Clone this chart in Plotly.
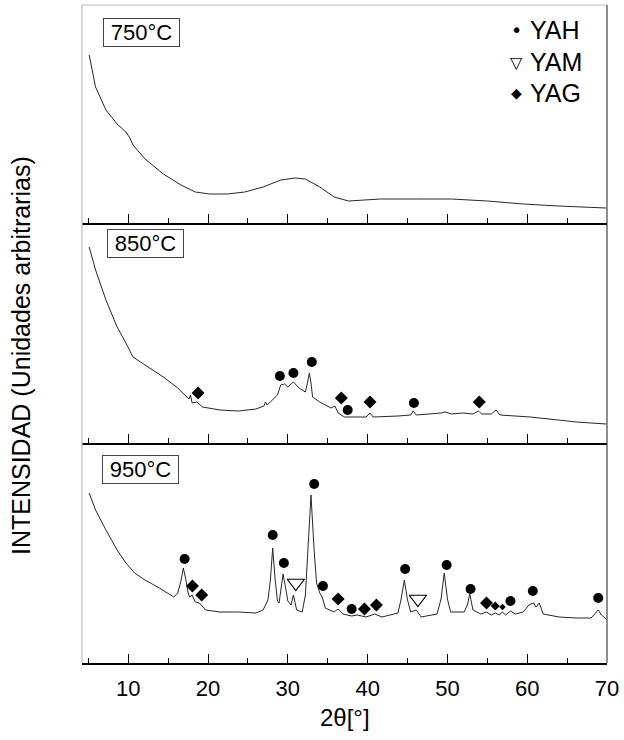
import plotly.graph_objects as go

# ---------------- data (arbitrary intensity units) ----------------
two_theta_750 = [5.1, 5.9, 7.2, 8.6, 9.7, 10.2, 10.6, 12.1, 14.4, 16.6, 18.4, 20.2, 22.4, 24.6,
                 26.9, 29.1, 30.9, 32.2, 34.0, 35.8, 37.6, 39.8, 41.6, 46.1, 50.5, 55.0,
                 59.5, 63.9, 69.9]
int_750 = [168, 136, 113, 99, 91, 85, 78, 64, 49, 38, 31, 29, 29, 31,
           36, 43, 45, 44, 36, 26, 22, 23, 24, 24, 24, 22,
           19, 17, 15]

two_theta_850 = [5.1, 5.9, 7.2, 8.6, 9.7, 10.6, 12.1, 14.4, 16.2, 17.6, 17.8, 18.0, 18.6, 19.3,
                 21.5, 23.8, 26.0, 27.0, 27.2, 27.4, 27.8, 28.7, 29.1, 29.6, 30.0, 30.7,
                 31.4, 32.2, 32.5, 32.7, 32.9, 33.1, 34.0, 35.4, 35.9, 36.3, 37.1, 38.5,
                 39.8, 40.3, 40.7, 43.8, 45.4, 45.7, 46.1, 49.2, 49.7, 50.5, 51.9, 53.2,
                 53.9, 54.3, 55.5, 56.1, 56.6, 60.4, 64.0, 66.2, 69.9]
int_850 = [196, 173, 143, 116, 100, 86, 78, 66, 55, 44, 48, 40, 41, 36,
           33, 32, 34, 37, 41, 38, 41, 48, 58, 59, 56, 61,
           55, 51, 62, 70, 60, 46, 41, 35, 37, 30, 26, 26,
           26, 30, 26, 27, 28, 32, 28, 30, 31, 29, 30, 29,
           32, 29, 29, 33, 28, 26, 23, 21, 19]

two_theta_950 = [5.1, 5.9, 7.2, 8.6, 9.7, 10.8, 12.1, 13.9, 15.7, 16.2, 16.6, 16.9, 17.2, 17.5,
                 17.7, 18.0, 18.4, 18.9, 19.7, 21.5, 23.8, 26.0, 26.9, 27.5, 27.8, 28.1,
                 28.4, 28.7, 28.9, 29.2, 29.4, 29.7, 30.0, 30.4, 30.7, 31.1, 31.8, 32.2,
                 32.5, 32.9, 33.3, 33.6, 34.0, 34.3, 34.7, 35.8, 36.3, 36.9, 38.0, 38.7,
                 39.8, 40.9, 41.8, 43.8, 44.2, 44.6, 45.0, 45.4, 46.1, 46.7, 48.7, 49.2,
                 49.6, 50.0, 50.4, 52.1, 52.5, 52.8, 53.2, 54.2, 54.9, 55.5, 56.0, 56.5,
                 56.9, 57.3, 57.9, 58.5, 59.5, 60.2, 60.8, 61.1, 61.5, 62.0, 64.0, 66.2,
                 68.0, 68.6, 68.9, 69.3, 69.9]
int_950 = [170, 153, 133, 113, 100, 90, 83, 75, 66, 70, 82, 95, 84, 70,
           66, 68, 61, 60, 53, 51, 51, 50, 53, 63, 82, 115, 84, 62,
           60, 78, 89, 76, 62, 58, 68, 53, 51, 68,
           112, 168, 112, 80, 70, 66, 55, 51, 54, 49, 47, 48,
           46, 49, 46, 50, 64, 83, 63, 51, 53, 46, 49, 64,
           90, 64, 51, 51, 58, 69, 53, 49, 51, 48, 50, 48,
           51, 48, 52, 49, 51, 58, 60, 56, 60, 49, 46, 45,
           45, 50, 53, 48, 44]

# phase markers (position, marker height)
yah_850_x = [29.0, 30.7, 33.0, 37.5, 45.8]
yah_850_y = [67, 70, 81, 33, 40]
yag_850_x = [18.75, 36.7, 40.3, 54.0]
yag_850_y = [50, 45, 41, 41]

yah_950_x = [17.06, 28.1, 29.5, 33.3, 34.4, 38.0, 44.7, 49.9, 52.9, 57.9, 60.7, 68.9]
yah_950_y = [104, 128, 100, 179, 77, 54, 94, 98, 74, 62, 72, 65]
yam_950_x = [31.0, 46.3]
yam_950_y = [80, 64]
yag_950_x = [18.04, 19.2, 36.3, 39.6, 41.1, 54.9, 56.0, 56.9]
yag_950_y = [77, 68, 64, 54, 58, 60, 57, 56]

temperatures = ["750°C", "850°C", "950°C"]
phases = ["YAH", "YAM", "YAG"]
x_ticks = [10, 20, 30, 40, 50, 60, 70]

# ---------------- figure ----------------
FONT = "Liberation Sans, Arial, sans-serif"
LINE = "#262626"
W, H = 624, 740
ML, MR, MT, MB = 82, 17, 5, 77
plot_h = H - MT - MB

fig = go.Figure()

def curve(x, y, xa, ya):
    fig.add_trace(go.Scatter(x=x, y=y, mode="lines", xaxis=xa, yaxis=ya,
                             line=dict(color=LINE, width=1), showlegend=False,
                             hoverinfo="skip"))

def marks(x, y, xa, ya, symbol, size, lw=0):
    fig.add_trace(go.Scatter(x=x, y=y, mode="markers", xaxis=xa, yaxis=ya,
                             marker=dict(symbol=symbol, size=size, color="black",
                                         opacity=1,
                                         line=dict(color="black", width=lw)),
                             showlegend=False, hoverinfo="skip"))

# panel 1 (top) -> x3/y3, panel 2 -> x2/y2, panel 3 (bottom) -> x/y
curve(two_theta_750, int_750, "x3", "y3")
curve(two_theta_850, int_850, "x2", "y2")
curve(two_theta_950, int_950, "x", "y")

marks(yah_850_x, yah_850_y, "x2", "y2", "circle", 10)
marks(yag_850_x, yag_850_y, "x2", "y2", "diamond", 10)
marks(yah_950_x, yah_950_y, "x", "y", "circle", 10)
marks(yam_950_x, yam_950_y, "x", "y", "triangle-down-open", 15, 1.2)
yag_sizes = [10, 10, 10, 10, 10, 10, 7, 5]
marks(yag_950_x, yag_950_y, "x", "y", "diamond", yag_sizes)

d1 = 220 / plot_h
d2 = 440 / plot_h

common_x = dict(range=[4.2, 70], showgrid=False, zeroline=False, showline=True,
                linecolor="black", linewidth=2, ticks="inside", ticklen=9,
                tickwidth=1.3, tickcolor="black", tickvals=x_ticks,
                minor=dict(ticks="inside", ticklen=5, tickwidth=1.3,
                           tickcolor="black", dtick=5, tick0=0))
common_y = dict(showgrid=False, zeroline=False, showline=False, showticklabels=False,
                ticks="")

fig.update_layout(
    width=W, height=H,
    margin=dict(l=ML, r=MR, t=MT, b=MB),
    paper_bgcolor="white", plot_bgcolor="white",
    font=dict(family=FONT, color="black", size=22),
    xaxis=dict(**common_x, anchor="y", showticklabels=True,
               tickfont=dict(family=FONT, size=22, color="black"),
               ticklabelstandoff=5),
    xaxis2=dict(**common_x, anchor="y2", matches="x", showticklabels=False),
    xaxis3=dict(**common_x, anchor="y3", matches="x", showticklabels=False),
    yaxis=dict(**common_y, domain=[0, d1], range=[0, 220]),
    yaxis2=dict(**common_y, domain=[d1, d2], range=[0, 220]),
    yaxis3=dict(**common_y, domain=[d2, 1], range=[0, 218]),
    showlegend=False,
)

def px_x(px):
    return (px - ML) / (W - ML - MR)

def px_y(py):
    return (H - MB - py) / plot_h

# frame around the stacked panels
fig.add_shape(type="line", xref="paper", yref="paper", x0=0, x1=0, y0=0, y1=1,
              line=dict(color="#bdbdbd", width=1.2))
fig.add_shape(type="line", xref="paper", yref="paper", x0=0, x1=1, y0=1, y1=1,
              line=dict(color="#bdbdbd", width=1.2))
fig.add_shape(type="line", xref="paper", yref="paper", x0=1, x1=1, y0=0, y1=1,
              line=dict(color="#444444", width=1.2))

# temperature boxes
box_centres = [(141.5, 32), (145, 243.5), (140.5, 469.5)]
for label, (cx, cy) in zip(temperatures, box_centres):
    fig.add_annotation(xref="paper", yref="paper", x=px_x(cx), y=px_y(cy),
                       xanchor="center", yanchor="middle", showarrow=False,
                       text=label, font=dict(family=FONT, size=22, color="black"),
                       width=71, height=23, borderpad=2,
                       bordercolor="#444444", borderwidth=1, bgcolor="white")

# phase key
key_symbols = ["•", "▽", "◆"]
key_sizes = [19, 16, 14]
key_rows = [30, 62, 93]
for sym, sz, name, ry in zip(key_symbols, key_sizes, phases, key_rows):
    fig.add_annotation(xref="paper", yref="paper", x=px_x(516), y=px_y(ry),
                       xanchor="center", yanchor="middle", showarrow=False,
                       text=sym, font=dict(family="DejaVu Sans", size=sz, color="black"))
    fig.add_annotation(xref="paper", yref="paper", x=px_x(528), y=px_y(ry),
                       xanchor="left", yanchor="middle", showarrow=False,
                       text=name, font=dict(family=FONT, size=25, color="black"))

# axis titles
fig.add_annotation(xref="paper", yref="paper", x=px_x(345), y=px_y(717),
                   xanchor="center", yanchor="middle", showarrow=False,
                   text="2θ[°]", font=dict(family=FONT, size=24, color="black"))
fig.add_annotation(xref="paper", yref="paper", x=px_x(21), y=px_y(356),
                   xanchor="center", yanchor="middle", showarrow=False, textangle=-90,
                   text="INTENSIDAD (Unidades arbitrarias)",
                   font=dict(family=FONT, size=25, color="black"))

fig.write_html("out.html", config={"displayModeBar": False},
               post_script="document.body.style.margin='0px';")
